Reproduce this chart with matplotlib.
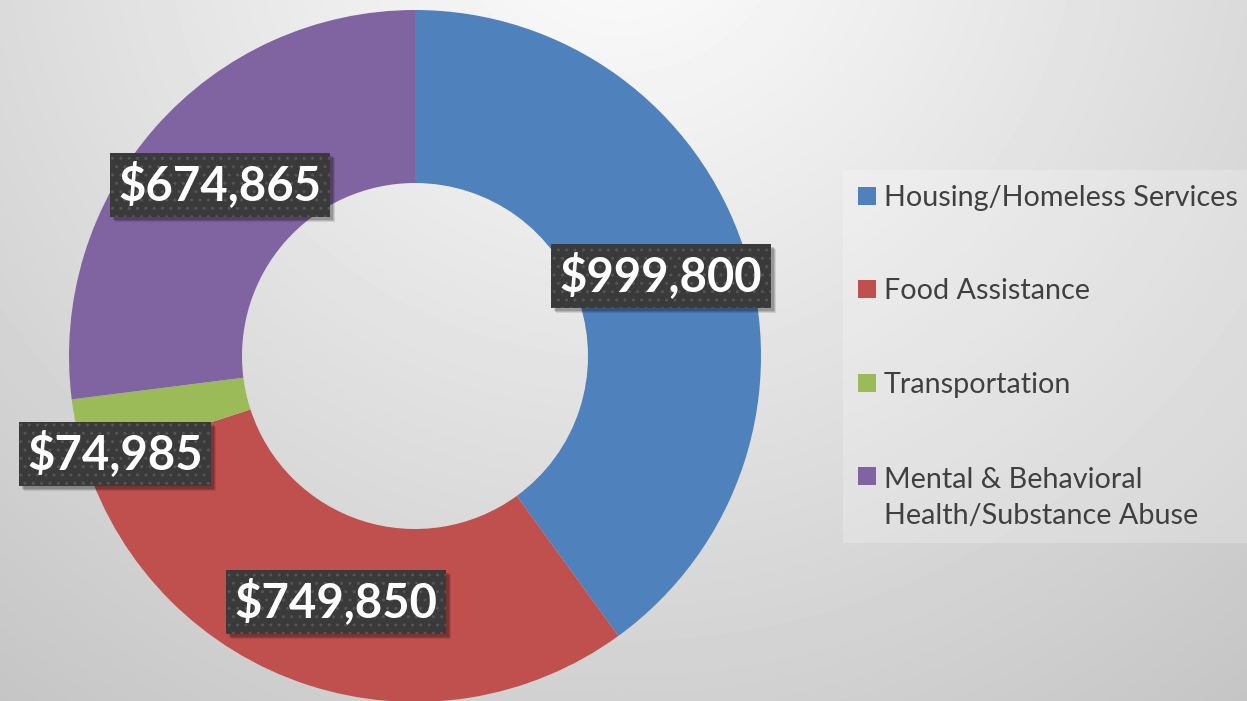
"""Donut chart of program funding by category."""

import numpy as np
import matplotlib.pyplot as plt
from matplotlib.patches import Rectangle

# --- Data ---
categories = [
    "Housing/Homeless Services",
    "Food Assistance",
    "Transportation",
    "Mental & Behavioral\nHealth/Substance Abuse",
]
amounts = [999800, 749850, 74985, 674865]
colors = ["#4F81BD", "#C0504D", "#9BBB59", "#8064A2"]

# label box centres (pixels, y measured from bottom)
label_pos = [(661, 425), (336, 99), (115, 247), (220, 516)]

W, H = 1247, 701
fig = plt.figure(figsize=(W / 100, H / 100), dpi=100)
ax = fig.add_axes([0, 0, 1, 1])

# --- Radial gradient background ---
yy, xx = np.mgrid[0:H, 0:W]
dist = np.hypot(xx - 620, yy + 100)
shade = np.clip(0.995 - 0.00022 * dist, 0, 1)
ax.imshow(shade, cmap="gray", vmin=0, vmax=1, extent=(0, W, 0, H),
          origin="upper", zorder=0, interpolation="bilinear")

# --- Donut ---
wedges, _ = ax.pie(
    amounts,
    colors=colors,
    startangle=90,
    counterclock=False,
    radius=346,
    center=(415, 345),
    wedgeprops=dict(width=173, linewidth=0),
)
for w in wedges:
    w.set_zorder(2)

ax.set_xlim(0, W)
ax.set_ylim(0, H)
ax.set_aspect("auto")
ax.axis("off")

# --- Value labels (dark dotted boxes) ---
labels = []
for (x, y), value in zip(label_pos, amounts):
    t = ax.text(x, y, f"${value:,}", ha="center", va="center",
                fontsize=34, fontweight="bold", family="Lato",
                color="white", zorder=5,
                bbox=dict(boxstyle="square,pad=0.18", facecolor="#3A3A3A",
                          edgecolor="#555555", linewidth=0, hatch=".."))
    labels.append(t)

# soft drop shadow under each box, sized from the rendered box
fig.canvas.draw()
inv = ax.transData.inverted()
for t in labels:
    ext = t.get_bbox_patch().get_window_extent()
    (x0, y0), (x1, y1) = inv.transform([(ext.x0, ext.y0), (ext.x1, ext.y1)])
    for k, a in ((5, 0.10), (4, 0.13), (3, 0.16)):
        ax.add_patch(Rectangle((x0 + k, y0 - k), x1 - x0, y1 - y0,
                               facecolor="black", alpha=a, linewidth=0,
                               zorder=4))

# --- Legend (drawn by hand so the marker sits on the first line) ---
ax.add_patch(Rectangle((843, H - 543), W - 843, 543 - 170,
                       facecolor="white", alpha=0.22, linewidth=0, zorder=1))
row_y = [196, 289, 383, 476]
for y, label, color in zip(row_y, categories, colors):
    ax.add_patch(Rectangle((858, H - y - 9), 18, 18, facecolor=color,
                           linewidth=0, zorder=3))
    ty = y + 22 if "\n" in label else y + 2
    ax.text(884, H - ty, label, ha="left", va="center",
            fontsize=20.7, family="Lato", color="#404040", zorder=3,
            linespacing=1.5)

fig.savefig("out.png", dpi=100)
